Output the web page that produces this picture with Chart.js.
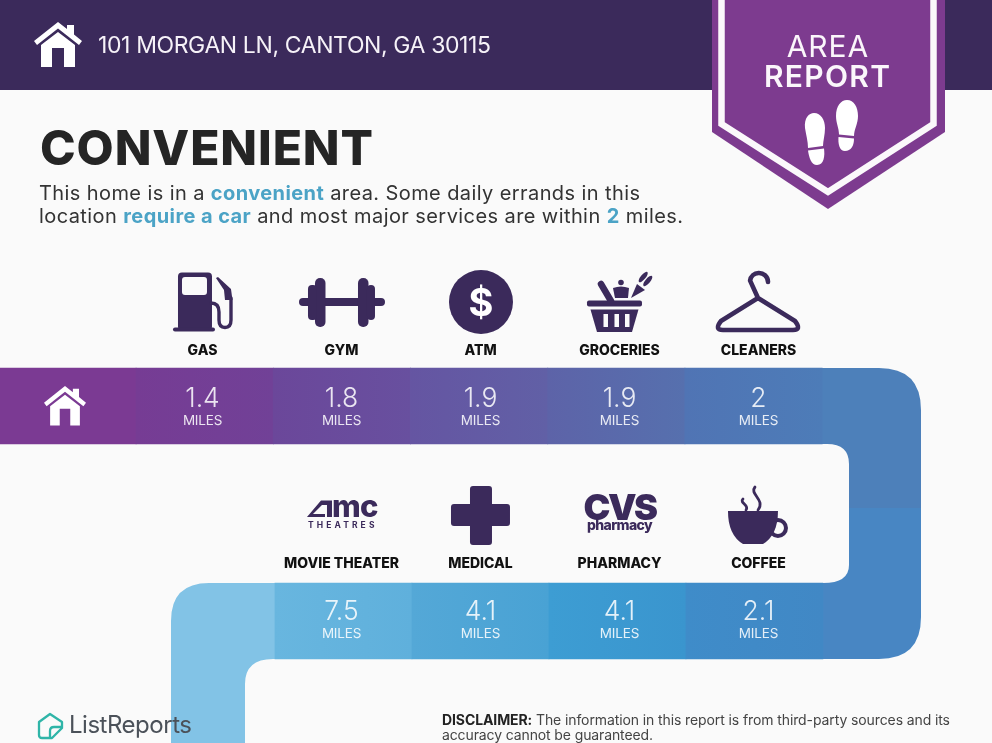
<!DOCTYPE html>
<html><head><meta charset="utf-8">
<script src="https://cdn.jsdelivr.net/npm/chart.js@4"></script>
<style>
html,body{margin:0;padding:0;background:#fafafa;overflow:hidden}
#page{position:relative;width:992px;height:743px;overflow:hidden;background:#fafafa}
#hdr{position:absolute;left:0;top:0;width:992px;height:89.5px;background:#3b2a5b}
canvas{position:absolute;left:0;top:0}
svg{position:absolute;left:0;top:0}
.t{position:absolute;white-space:nowrap}
.h{color:#4ba3c6;font-weight:700}
b{font-weight:700}
</style></head><body>
<div id="page">
<div id="hdr"></div>
<canvas id="c" width="992" height="743"></canvas>
<svg width="992" height="743" viewBox="0 0 992 743">
  <path transform="translate(34,22)" fill="#fff" d="M24 0L33 7V3H40V12.5L48 19L45 23L24 6.5L3 23L0 19Z M7 23L24 10L41 23V45H30V26H18V45H7Z"/>
  <path fill="#7d3b8f" d="M712 0H945V132L828 209L712 132Z"/>
  <path fill="none" stroke="#fbf8fb" stroke-width="6.5" d="M721.5 0V124L828 192L933.5 124V0"/>
  <g fill="#fff">
    <path d="M805 128C804 118 809 113 814 113C821 113 825 120 825 128C825 135 823 141 823 146L808 148C808 141 806 135 805 128Z"/>
    <path d="M808 150.500L824 148.500C825 156 824 165 817 165C811 165 809 157 808 150.500Z"/>
    <path d="M836 116C836 106 841 100 847 100C854 100 858 107 858 116C858 124 854 129 854 136L839 134.500C839 128 836 123 836 116Z"/>
    <path d="M838.500 137L854 138.500C854 146 851 151 845 151C839 151 838 143 838.500 137Z"/>
  </g>
  <g fill="none" stroke="#2fb5a8" stroke-width="2.3" stroke-linejoin="round">
    <path d="M50 714L62 722V728L52 738H42Q39 738 39 735V722Z"/>
    <path d="M62 727H54Q50 727 50 731V738"/>
  </g>
</svg>
</div>
<script>
// ---- data ----
const row1Categories = ['GAS','GYM','ATM','GROCERIES','CLEANERS'];
const row1Miles = [1.4,1.8,1.9,1.9,2];
const row2Categories = ['MOVIE THEATER','MEDICAL','PHARMACY','COFFEE'];
const row2Miles = [7.5,4.1,4.1,2.1];
const unitLabel = 'MILES';

// ---- styles ----
const row1Colors = [['#7b3a93','#7b3a93'],['#763c94','#714197'],['#6b479a','#68509f'],['#6555a2','#6160a6'],['#5d63a8','#5670ae'],['#5074b4','#4d7cb8']];
const row2Colors = [['#82c3e6','#82c3e6'],['#68b6df','#5fb0dc'],['#54a8d7','#49a2d4'],['#3d9dd3','#3a95ce'],['#3f8cc9','#4188c5']];
const ROW1 = [368,444], ROW2 = [583,659];
const INK = '#3b2a5b';
const FONT = 'Inter, sans-serif';

function grad(c, pal) {
  if (c.dataIndex === undefined) return pal[0][0];
  const x = c.chart.scales[c.dataset.xAxisID];
  const raw = c.dataset.data[c.dataIndex];
  const p = pal[raw.x];
  const w = c.dataset.barThickness, m = x ? x.getPixelForValue(raw.x) : NaN;
  if (!isFinite(m)) return p[0];
  const g = c.chart.ctx.createLinearGradient(m - w/2, 0, m + w/2, 0);
  g.addColorStop(0,p[0]); g.addColorStop(1,p[1]); return g;
}

const HOUSE = new Path2D('M24 0L33 7V3H40V12.5L48 19L45 23L24 6.5L3 23L0 19Z M7 23L24 10L41 23V45H30V26H18V45H7Z');

function rr(ctx,x,y,w,h,r){ctx.beginPath();ctx.roundRect(x,y,w,h,r);ctx.fill();}

const icons = {
  GAS(ctx,cx){ const o=cx-202.5; ctx.save(); ctx.translate(o,0);
    ctx.fillStyle=INK; rr(ctx,178,272.5,34,58,4); rr(ctx,173,327.5,42,4,2);
    ctx.fillStyle='#fafafa'; rr(ctx,182,277,25,18,3);
    ctx.strokeStyle=INK; ctx.lineWidth=3.4; ctx.lineCap='round';
    ctx.beginPath(); ctx.moveTo(211,303); ctx.quadraticCurveTo(219,303,219,312); ctx.lineTo(219,320); ctx.quadraticCurveTo(219,327.5,225,327.5); ctx.quadraticCurveTo(231,327.5,231,320); ctx.lineTo(231,298); ctx.stroke();
    ctx.fillStyle=INK; ctx.beginPath(); ctx.moveTo(216,278); ctx.lineTo(218,277); ctx.lineTo(231,289); ctx.lineTo(232.5,300); ctx.lineTo(225,300); ctx.lineTo(224,290); ctx.closePath(); ctx.fill();
    ctx.restore(); },
  GYM(ctx,cx){ const o=cx-341.5; ctx.fillStyle=INK;
    rr(ctx,299+o,298,86,8,4); rr(ctx,315+o,278,10.5,49,5); rr(ctx,308+o,285,9,35,4); rr(ctx,358+o,278,10.5,49,5); rr(ctx,367+o,285,8,35,4); },
  ATM(ctx,cx){ ctx.fillStyle=INK; ctx.beginPath(); ctx.arc(cx+0.5,302,32,0,Math.PI*2); ctx.fill();
    ctx.fillStyle='#fff'; ctx.font='700 38px '+FONT; ctx.textAlign='center'; ctx.fillText('$',cx+0.5,316); },
  GROCERIES(ctx,cx){ const o=cx-619.5; ctx.save(); ctx.translate(o,0); ctx.fillStyle=INK; ctx.strokeStyle=INK;
    ctx.lineWidth=6.5; ctx.lineCap='round'; ctx.beginPath(); ctx.moveTo(601,284); ctx.lineTo(611,301); ctx.stroke();
    rr(ctx,587,300.5,55,6,2);
    ctx.beginPath(); ctx.moveTo(590.5,309.5); ctx.lineTo(638.5,309.5); ctx.lineTo(632,332); ctx.lineTo(597,332); ctx.closePath(); ctx.fill();
    ctx.fillStyle='#fafafa'; [603.5,614.5,625].forEach(x=>ctx.fillRect(x,314,4.5,13));
    ctx.fillStyle=INK; ctx.beginPath(); ctx.moveTo(613,288); ctx.quadraticCurveTo(621,285,629,288); ctx.lineTo(628,298); ctx.lineTo(615,298); ctx.closePath(); ctx.fill();
    ctx.beginPath(); ctx.arc(621,282.5,2.8,0,7); ctx.fill();
    ctx.beginPath(); ctx.moveTo(631,298); ctx.lineTo(637,284); ctx.lineTo(645,290); ctx.closePath(); ctx.fill();
    ctx.save(); ctx.translate(645.5,279); ctx.rotate(0.7); ctx.beginPath(); ctx.ellipse(-3,0,2.4,6.5,0,0,7); ctx.ellipse(3,0,2.4,6.5,0,0,7); ctx.fill(); ctx.restore();
    ctx.restore(); },
  CLEANERS(ctx,cx){ const o=cx-757.5; ctx.save(); ctx.translate(o,0); ctx.strokeStyle=INK; ctx.lineWidth=4.6; ctx.lineCap='round'; ctx.lineJoin='round';
    ctx.beginPath(); ctx.moveTo(767,282); ctx.arc(758,282,9,-0.05,Math.PI*1.05,true); ctx.lineTo(757,298); ctx.lineTo(720,321); ctx.quadraticCurveTo(713,330,722,330); ctx.lineTo(792,330); ctx.quadraticCurveTo(801,330,794,321); ctx.lineTo(757,298); ctx.stroke();
    ctx.restore(); },
  'MOVIE THEATER'(ctx,cx){ ctx.fillStyle=INK; ctx.textAlign='left';
    const l=cx-34.5; ctx.beginPath(); ctx.moveTo(l,517); ctx.lineTo(l+14,500.5); ctx.lineTo(l+25,500.5); ctx.lineTo(l+25,517); ctx.lineTo(l+20,517); ctx.lineTo(l+20,505); ctx.lineTo(l+15,505); ctx.lineTo(l+6,514); ctx.lineTo(l+18,514); ctx.lineTo(l+18,517); ctx.closePath(); ctx.fill();
    ctx.font='800 31px '+FONT; ctx.letterSpacing='-0.8px'; ctx.fillText('mc',l+25,517); ctx.letterSpacing='0px';
    ctx.font='700 8.5px '+FONT; ctx.letterSpacing='3.1px'; ctx.fillText('THEATRES',l+1,527.5); ctx.letterSpacing='0px'; },
  MEDICAL(ctx,cx){ ctx.fillStyle=INK; rr(ctx,cx-10.5,486,22,59,3); rr(ctx,cx-29.5,504,59,22,3); },
  PHARMACY(ctx,cx){ ctx.fillStyle=INK; ctx.textAlign='center';
    ctx.font='900 36px '+FONT; ctx.letterSpacing='-2.5px'; ctx.fillText('CVS',cx,520);
    ctx.font='800 14px '+FONT; ctx.letterSpacing='-0.6px'; ctx.fillText('pharmacy',cx,530); ctx.letterSpacing='0px'; },
  COFFEE(ctx,cx){ const o=cx-758.5; ctx.save(); ctx.translate(o,0); ctx.fillStyle=INK; ctx.strokeStyle=INK;
    ctx.lineWidth=4; ctx.beginPath(); ctx.arc(778,528,8,0,7); ctx.stroke();
    ctx.beginPath(); ctx.moveTo(728,511); ctx.lineTo(778,511); ctx.quadraticCurveTo(778,535,763,544); ctx.lineTo(743,544); ctx.quadraticCurveTo(728,535,728,511); ctx.fill();
    ctx.lineWidth=2.8; ctx.lineCap='round';
    ctx.beginPath(); ctx.moveTo(755,487); ctx.bezierCurveTo(749,494,766,500,758,510); ctx.stroke();
    ctx.beginPath(); ctx.moveTo(743,499); ctx.bezierCurveTo(739,503,750,505,746,510); ctx.stroke();
    ctx.restore(); }
};

const ribbon = {
  id:'ribbon',
  beforeDatasetsDraw(chart){
    const ctx=chart.ctx, y=chart.scales.y, x1=chart.scales.x, x2=chart.scales.x2;
    const t1=y.getPixelForValue(ROW1[0]), b1=y.getPixelForValue(ROW1[1]), t2=y.getPixelForValue(ROW2[0]), b2=y.getPixelForValue(ROW2[1]);
    const e1=x1.getPixelForValue(5.5), e2=x2.getPixelForValue(4.5), s2=x2.getPixelForValue(0.5);
    const R=921, I=849, seam=508, L=171, LI=245;
    ctx.save();
    ctx.fillStyle='#4d80ba'; ctx.beginPath(); ctx.moveTo(e1-1,t1); ctx.lineTo(R-42,t1); ctx.quadraticCurveTo(R,t1,R,t1+42); ctx.lineTo(R,seam); ctx.lineTo(I,seam); ctx.lineTo(I,b1+20); ctx.quadraticCurveTo(I,b1,I-22,b1); ctx.lineTo(e1-1,b1); ctx.closePath(); ctx.fill();
    ctx.fillStyle='#4886c3'; ctx.beginPath(); ctx.moveTo(I,seam); ctx.lineTo(R,seam); ctx.lineTo(R,b2-42); ctx.quadraticCurveTo(R,b2,R-42,b2); ctx.lineTo(e2-1,b2); ctx.lineTo(e2-1,t2); ctx.lineTo(I-26,t2); ctx.quadraticCurveTo(I,t2,I,t2-18); ctx.closePath(); ctx.fill();
    ctx.fillStyle=row2Colors[0][0]; ctx.beginPath(); ctx.moveTo(s2+1,t2); ctx.lineTo(L+38,t2); ctx.quadraticCurveTo(L,t2,L,t2+38); ctx.lineTo(L,743); ctx.lineTo(LI,743); ctx.lineTo(LI,b2+25); ctx.quadraticCurveTo(LI,b2,LI+28,b2); ctx.lineTo(s2+1,b2); ctx.closePath(); ctx.fill();
    ctx.restore();
  },
  afterDatasetsDraw(chart){
    const ctx=chart.ctx, xl=chart.scales.xl;
    ctx.save();
    ctx.fillStyle='#fff';
    ctx.save(); ctx.translate(44,386); ctx.scale(0.875,0.875); ctx.fill(HOUSE); ctx.restore();
    const row=(names,miles,first,labelBase,valBase,milesBase,tint)=>{
      names.forEach((n,i)=>{
        const cx=xl.getPixelForValue(first+i);
        ctx.save(); icons[n](ctx,cx); ctx.restore();
        ctx.textAlign='center'; ctx.fillStyle='#111';
        ctx.font='800 14px '+FONT; ctx.fillText(n,cx,labelBase);
        ctx.fillStyle=tint; ctx.font='300 26.5px '+FONT; ctx.fillText(String(miles[i]),cx,valBase);
        ctx.font='400 13.5px '+FONT; ctx.letterSpacing='-0.2px'; ctx.fillText(unitLabel,cx,milesBase); ctx.letterSpacing='0px';
      });
    };
    row(row1Categories,row1Miles,1,355,407,424.5,'rgba(255,255,255,.86)');
    row(row2Categories,row2Miles,2,568,619.5,638,'rgba(255,255,255,.86)');
    ctx.restore();
  }
};

const row1Data=[{x:0,y:ROW1,miles:null}].concat(row1Miles.map((m,i)=>({x:i+1,y:ROW1,miles:m})));
const row2Data=row2Miles.map((m,i)=>({x:i+1,y:ROW2,miles:m}));

new Chart(document.getElementById('c'),{
  type:'bar',
  data:{datasets:[
    {label:'Top row',data:row1Data,xAxisID:'x',yAxisID:'y',barThickness:137.4,backgroundColor:c=>grad(c,row1Colors),grouped:false},
    {label:'Bottom row',data:row2Data,xAxisID:'x2',yAxisID:'y',barThickness:137,backgroundColor:c=>grad(c,row2Colors),grouped:false}
  ]},
  options:{
    responsive:false,animation:false,devicePixelRatio:1,events:[],
    layout:{padding:0},
    plugins:{legend:{display:false},tooltip:{enabled:false}},
    scales:{
      x:{type:'linear',offset:false,display:false,min:-0.492,max:6.738},
      x2:{type:'linear',axis:'x',offset:false,display:false,min:-1.507,max:5.734},
      xl:{type:'linear',axis:'x',offset:false,display:false,min:-0.4568,max:6.680},
      y:{type:'linear',display:false,min:0,max:743,reverse:true}
    }
  },
  plugins:[ribbon]
});

const page=document.getElementById('page'), mc=document.createElement('canvas').getContext('2d');
function put(html,x,base,font,color,width){
  const d=document.createElement('div'); d.className='t'; d.innerHTML=html; d.style.font=font; d.style.color=color; d.style.left=x+'px'; d.style.lineHeight='normal';
  page.appendChild(d);
  mc.font=font; const m=mc.measureText('Hg');
  const r=d.getBoundingClientRect();
  d.style.top=(base-((r.height-(m.fontBoundingBoxAscent+m.fontBoundingBoxDescent))/2+m.fontBoundingBoxAscent))+'px';
  if(width){const n=d.textContent.length-1; d.style.letterSpacing=((width-r.width)/n)+'px';}
}
const F=FONT;
put('101 MORGAN LN, CANTON, GA 30115',98,52.7,'400 23px '+F,'#f6f2f8',393);
put('AREA',786.7,57.3,'400 30px '+F,'#fbf6fb',81.6);
put('REPORT',764,87.3,'600 30px '+F,'#fbf6fb',126);
put('CONVENIENT',40,165,'800 48px '+F,'#252525',333);
put('This home is in a <span class="h">convenient</span> area. Some daily errands in this',39,200,'400 20px '+F,'#333',601);
put('location <span class="h">require a car</span> and most major services are within <span class="h">2</span> miles.',39,222.7,'400 20px '+F,'#333',644);
put('ListReports',69,733,'400 24px '+F,'#4b5159',123);
put('<b style="color:#222">DISCLAIMER:</b> The information in this report is from third-party sources and its',442,725,'400 14px '+F,'#444',508);
put('accuracy cannot be guaranteed.',442,740,'400 14px '+F,'#444',211);
</script>
</body></html>
